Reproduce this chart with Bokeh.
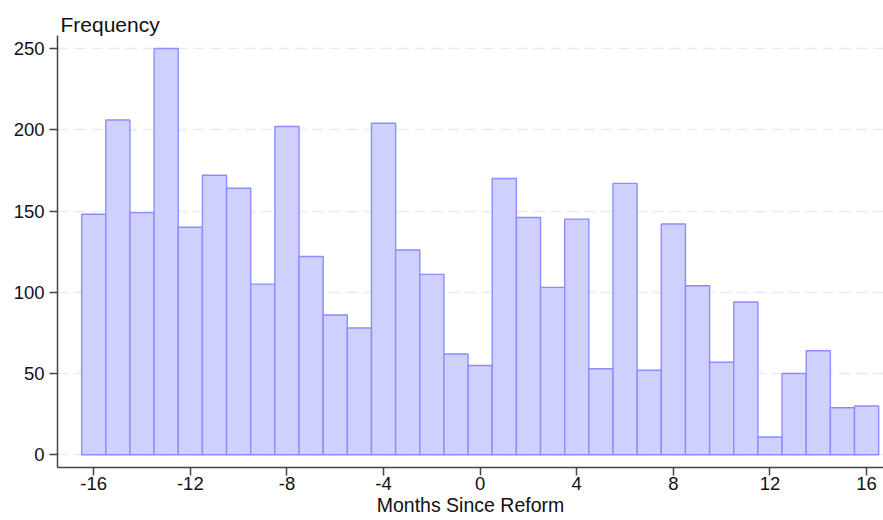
from bokeh.plotting import figure
from bokeh.models import ColumnDataSource, FixedTicker, Range1d
from bokeh.embed import file_html
from bokeh.resources import INLINE

months = list(range(-16, 17))
frequency = [148, 206, 149, 250, 140, 172, 164, 105, 202, 122, 86, 78, 204, 126,
             111, 62, 55, 170, 146, 103, 145, 53, 167, 52, 142, 104, 57, 94, 11,
             50, 64, 29, 30]
x_ticks = [-16, -12, -8, -4, 0, 4, 8, 12, 16]
x_tick_labels = ["-16", "-12", "-8", "-4", "0", "4", "8", "12", "16"]
y_ticks = [0, 50, 100, 150, 200, 250]
x_title = "Months Since Reform"
y_title = "Frequency"

src = ColumnDataSource(dict(x=months, top=frequency))

FONT = "Liberation Sans"

p = figure(width=883, height=520, output_backend="svg", toolbar_location=None,
           x_range=Range1d(-17.5, 16.7), y_range=Range1d(-7.8, 258),
           min_border_left=57, min_border_right=0, min_border_top=35,
           min_border_bottom=53, title=y_title)

p.vbar(x="x", top="top", bottom=0, width=1, source=src,
       fill_color="#d0d0ff", line_color="#8c8cff", line_width=1.4)

p.title.text_font = FONT
p.title.text_font_size = "21px"
p.title.text_font_style = "normal"
p.title.text_color = "#111111"
p.title.align = "left"
p.title.offset = 3
p.title.standoff = 0

p.outline_line_color = None
p.background_fill_color = "white"
p.border_fill_color = "white"

p.xgrid.grid_line_color = None
p.ygrid.grid_line_color = "#eaeaea"
p.ygrid.grid_line_width = 1.5
p.ygrid.grid_line_dash = "11 6"
p.ygrid.ticker = FixedTicker(ticks=y_ticks)

p.xaxis.ticker = FixedTicker(ticks=x_ticks)
p.xaxis.major_label_overrides = {t: s for t, s in zip(x_ticks, x_tick_labels)}
p.yaxis.ticker = FixedTicker(ticks=y_ticks)
p.xaxis.axis_label = x_title

for ax in (p.xaxis[0], p.yaxis[0]):
    ax.axis_line_color = "#454545"
    ax.axis_line_width = 1.5
    ax.major_tick_line_color = "#454545"
    ax.major_tick_line_width = 1.5
    ax.major_tick_out = 8
    ax.major_tick_in = 0
    ax.minor_tick_line_color = None
    ax.major_label_text_font = FONT
    ax.major_label_text_font_size = "18.5px"
    ax.major_label_text_color = "#111111"
    ax.axis_label_text_font = FONT
    ax.axis_label_text_font_size = "19.5px"
    ax.axis_label_text_font_style = "normal"
    ax.axis_label_text_color = "#111111"

p.xaxis.major_label_standoff = 1
p.xaxis.axis_label_standoff = 1
p.yaxis.major_label_standoff = 5

open("out.html", "w").write(file_html(p, INLINE))
